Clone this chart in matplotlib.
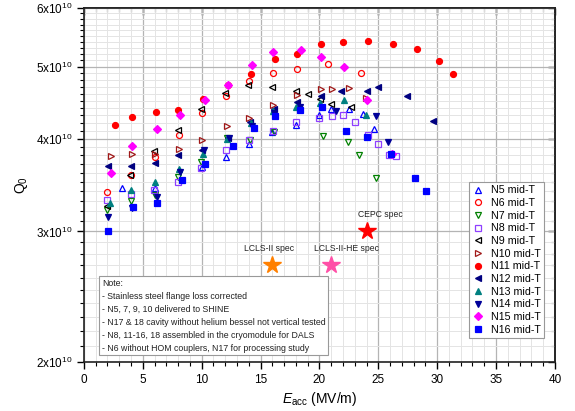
import numpy as np
import matplotlib
matplotlib.use('Agg')
import matplotlib.pyplot as plt
from matplotlib.ticker import FixedLocator, MultipleLocator, NullFormatter

plt.rcParams['font.family'] = ['Liberation Sans', 'DejaVu Sans']
plt.rcParams['mathtext.fontset'] = 'custom'
plt.rcParams['mathtext.rm'] = 'Liberation Sans'
plt.rcParams['mathtext.it'] = 'Liberation Sans:italic'
plt.rcParams['mathtext.default'] = 'regular'

# Eacc (MV/m) and Q0 (in 1e10)
n5_e = [3.2, 6.03, 10.0, 12.06, 14.01, 15.99, 18.0, 19.96, 20.98, 22.5, 23.72, 24.65]
n5_q = [3.43, 3.43, 3.66, 3.78, 3.94, 4.08, 4.18, 4.30, 4.39, 4.39, 4.32, 4.12]

n6_e = [2.0, 3.99, 6.03, 8.09, 10.02, 12.03, 14.01, 16.08, 18.06, 20.76, 23.54]
n6_q = [3.39, 3.57, 3.78, 4.04, 4.33, 4.56, 4.78, 4.90, 4.97, 5.04, 4.90]

n7_e = [2.0, 3.99, 6.03, 8.01, 9.96, 12.12, 14.1, 16.18, 20.27, 22.39, 23.35, 24.78]
n7_q = [3.21, 3.30, 3.36, 3.55, 3.72, 4.01, 3.99, 4.09, 4.03, 3.96, 3.80, 3.54]

n8_e = [1.95, 3.99, 5.97, 7.98, 9.98, 12.03, 14.01, 16.03, 18.0, 19.96, 21.03, 21.97,
        23.01, 24.14, 24.99, 25.94, 26.5]
n8_q = [3.31, 3.37, 3.41, 3.50, 3.65, 3.86, 3.98, 4.10, 4.21, 4.27, 4.29, 4.30,
        4.21, 4.05, 3.94, 3.80, 3.79]

n9_e = [1.95, 3.95, 5.97, 8.01, 9.94, 12.0, 13.95, 15.94, 18.0, 19.0, 20.04, 21.0, 22.68]
n9_q = [3.25, 3.57, 3.85, 4.11, 4.39, 4.61, 4.73, 4.69, 4.64, 4.59, 4.52, 4.46, 4.41]

n10_e = [2.28, 4.05, 6.03, 8.07, 10.05, 12.19, 14.04, 16.08, 18.06, 20.13, 21.03, 22.52, 23.97]
n10_q = [3.79, 3.81, 3.81, 3.87, 3.99, 4.16, 4.27, 4.44, 4.58, 4.67, 4.67, 4.68, 4.54]

n11_e = [2.63, 4.05, 6.11, 8.01, 10.13, 12.25, 14.16, 16.22, 18.09, 20.13, 22.02, 24.14,
         26.22, 28.31, 30.12, 31.31]
n11_q = [4.17, 4.28, 4.34, 4.37, 4.53, 4.72, 4.89, 5.12, 5.21, 5.37, 5.40, 5.41,
         5.36, 5.28, 5.09, 4.89]

n12_e = [2.06, 4.02, 6.0, 7.98, 10.02, 12.25, 14.12, 16.14, 18.06, 20.13, 21.8, 24.01,
         25.01, 27.46, 29.66]
n12_q = [3.67, 3.68, 3.71, 3.80, 3.86, 4.01, 4.21, 4.38, 4.48, 4.56, 4.64, 4.64,
         4.70, 4.57, 4.22]

n13_e = [2.21, 4.03, 6.03, 8.08, 10.09, 12.12, 14.2, 16.03, 18.0, 20.04, 22.08, 23.95]
n13_q = [3.28, 3.41, 3.50, 3.64, 3.81, 4.00, 4.20, 4.36, 4.42, 4.47, 4.51, 4.31]

n14_e = [2.01, 4.1, 6.17, 8.2, 10.2, 12.31, 14.29, 16.14, 18.34, 21.38, 24.8, 25.84]
n14_q = [3.14, 3.23, 3.34, 3.61, 3.86, 4.01, 4.16, 4.33, 4.41, 4.36, 4.29, 3.96]

n15_e = [2.29, 4.05, 6.17, 8.13, 10.3, 12.25, 14.24, 16.03, 18.45, 20.13, 22.1, 24.0, 26.13]
n15_q = [3.60, 3.91, 4.12, 4.30, 4.51, 4.73, 5.03, 5.24, 5.26, 5.15, 4.99, 4.51, 3.81]

n16_e = [2.06, 4.14, 6.17, 8.32, 10.28, 12.65, 14.45, 16.22, 18.37, 20.25, 22.28, 24.01,
         26.06, 28.14, 29.02]
n16_q = [3.00, 3.24, 3.28, 3.52, 3.70, 3.91, 4.13, 4.29, 4.37, 4.41, 4.10, 4.02,
         3.82, 3.54, 3.40]

spec_names = ['LCLS-II spec', 'LCLS-II-HE spec', 'CEPC spec']
spec_e = [16, 21, 24]
spec_q = [2.7, 2.7, 3.0]
spec_colors = ['#ff8000', '#ff4fa7', '#ff0000']

notes = ['Note:',
         '- Stainless steel flange loss corrected',
         '- N5, 7, 9, 10 delivered to SHINE',
         '- N17 & 18 cavity without helium bessel not vertical tested',
         '- N8, 11-16, 18 assembled in the cryomodule for DALS',
         '- N6 without HOM couplers, N17 for processing study']

# (label, E, Q, marker, color, filled)
series = [
    ('N5 mid-T', n5_e, n5_q, '^', '#0000ff', False),
    ('N6 mid-T', n6_e, n6_q, 'o', '#ff0000', False),
    ('N7 mid-T', n7_e, n7_q, 'v', '#008000', False),
    ('N8 mid-T', n8_e, n8_q, 's', '#8f3fff', False),
    ('N9 mid-T', n9_e, n9_q, '<', '#000000', False),
    ('N10 mid-T', n10_e, n10_q, '>', '#a01818', False),
    ('N11 mid-T', n11_e, n11_q, 'o', '#ff0000', True),
    ('N12 mid-T', n12_e, n12_q, '<', '#000080', True),
    ('N13 mid-T', n13_e, n13_q, '^', '#008080', True),
    ('N14 mid-T', n14_e, n14_q, 'v', '#000099', True),
    ('N15 mid-T', n15_e, n15_q, 'D', '#ff00ff', True),
    ('N16 mid-T', n16_e, n16_q, 's', '#0000ff', True),
]

fig = plt.figure(figsize=(5.75, 4.11), dpi=100)
ax = fig.add_axes([0.146, 0.119, 0.819, 0.8615])

for label, e, q, m, c, filled in series:
    ax.plot(e, np.array(q) * 1e10, linestyle='none', marker=m,
            markersize=4.3 if m != 'D' else 3.8,
            markerfacecolor=c if filled else 'none', markeredgecolor=c,
            markeredgewidth=0.9, label=label, zorder=3)

for name, e, q, c in zip(spec_names, spec_e, spec_q, spec_colors):
    ax.plot(e, q * 1e10, marker='*', markersize=13, color=c, linestyle='none', zorder=4)
    dx = 10 if name == 'CEPC spec' else (11 if name == 'LCLS-II-HE spec' else -2)
    ax.annotate(name, (e, q * 1e10), xytext=(dx, 9), textcoords='offset points',
                ha='center', va='bottom', fontsize=6.2, color='#222222')

ax.set_yscale('log')
ax.set_xlim(0, 40)
ax.set_ylim(2e10, 6e10)

ax.xaxis.set_major_locator(MultipleLocator(5))
ax.xaxis.set_minor_locator(MultipleLocator(1))
ax.yaxis.set_major_locator(FixedLocator([2e10, 3e10, 4e10, 5e10, 6e10]))
ax.yaxis.set_minor_locator(FixedLocator(np.arange(20, 61) * 1e9))
ax.yaxis.set_minor_formatter(NullFormatter())
ax.set_yticklabels(['2x10$^{10}$', '3x10$^{10}$', '4x10$^{10}$', '5x10$^{10}$', '6x10$^{10}$'])

ax.grid(which='major', color='#b4b4b4', linewidth=0.9, zorder=0)
ax.grid(which='minor', color='#e4e4e4', linewidth=0.7, zorder=0)
ax.set_axisbelow(True)

ax.tick_params(which='both', direction='out', top=False, right=False, labelsize=8.5)
ax.tick_params(which='major', length=5, width=1)
ax.tick_params(which='minor', length=3, width=0.8)
ax2 = ax.secondary_xaxis('top')
ax2.xaxis.set_major_locator(MultipleLocator(5))
ax2.xaxis.set_minor_locator(MultipleLocator(1))
ax2.tick_params(which='both', direction='in', labeltop=False)
ax2.tick_params(which='major', length=5, width=1)
ax2.tick_params(which='minor', length=3, width=0.8)
ay2 = ax.secondary_yaxis('right')
ay2.set_yscale('log')
ay2.yaxis.set_major_locator(FixedLocator([2e10, 3e10, 4e10, 5e10, 6e10]))
ay2.yaxis.set_minor_locator(FixedLocator(np.arange(20, 61) * 1e9))
ay2.tick_params(which='both', direction='in', labelright=False)
ay2.tick_params(which='major', length=5, width=1)
ay2.tick_params(which='minor', length=3, width=0.8)
for sp in list(ax.spines.values()) + [ax2.spines['top'], ay2.spines['right']]:
    sp.set_linewidth(1.2)
    sp.set_color('#222222')

ax.set_xlabel(r'$\mathit{E}_{acc}$ (MV/m)', fontsize=10, labelpad=3)
ax.set_ylabel('Q$_0$', fontsize=10, labelpad=4)

leg = ax.legend(loc='upper right', bbox_to_anchor=(0.977, 0.508), fontsize=7.7,
                frameon=True, fancybox=False, edgecolor='#999999', framealpha=1,
                handlelength=1.2, handletextpad=0.6, labelspacing=0.25,
                borderpad=0.3, borderaxespad=0)
leg.get_frame().set_linewidth(0.8)

ax.text(0.038, 0.236, '\n'.join(notes), transform=ax.transAxes, fontsize=6.3,
        va='top', ha='left', linespacing=1.58, color='#222222', zorder=5,
        bbox=dict(boxstyle='square,pad=0.3', facecolor='white', edgecolor='#999999',
                  linewidth=0.8))

fig.savefig('out.png', dpi=100)
